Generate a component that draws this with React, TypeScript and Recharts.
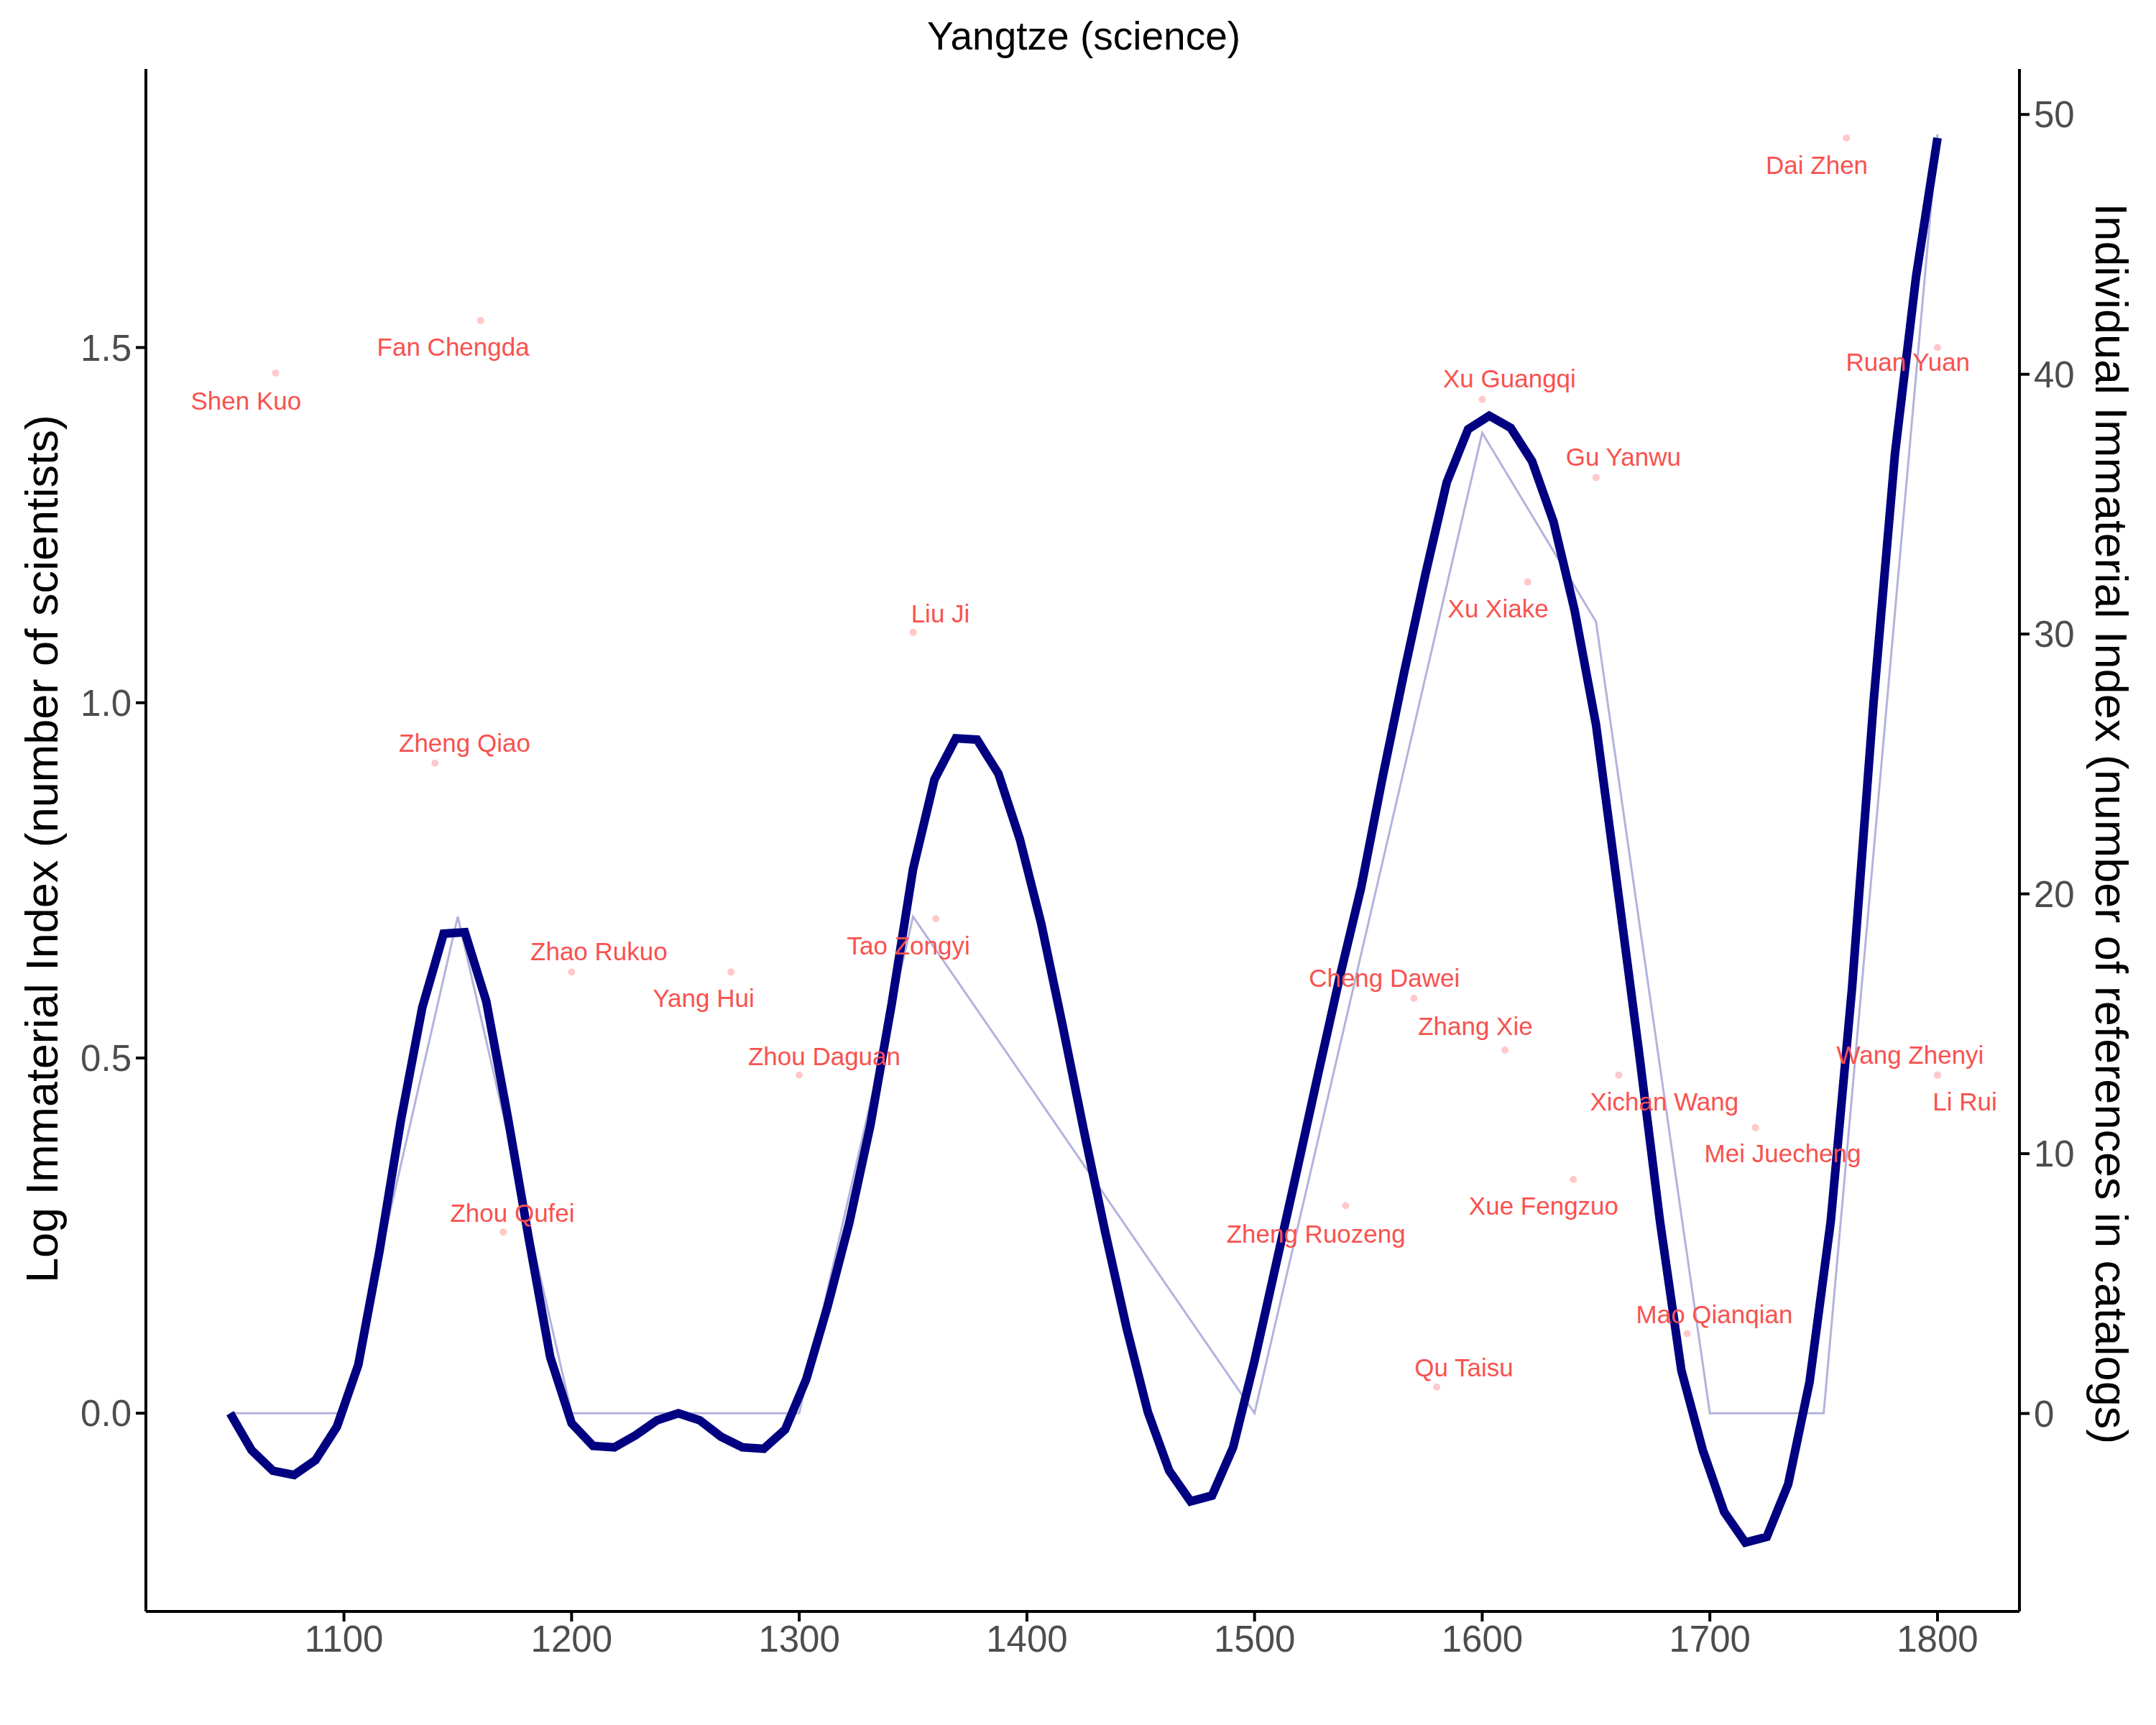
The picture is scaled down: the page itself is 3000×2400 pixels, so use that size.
import React from 'react';
import {
  ComposedChart,
  Line,
  Scatter,
  XAxis,
  YAxis,
} from 'recharts';

// smoothed curve (log immaterial index)
const smoothYears = [
  1050, 1059.4, 1068.8, 1078.1, 1087.5, 1096.9, 1106.3, 1115.6, 1125, 1134.4,
  1143.8, 1153.1, 1162.5, 1171.9, 1181.3, 1190.6, 1200, 1209.4, 1218.8, 1228.1,
  1237.5, 1246.9, 1256.3, 1265.6, 1275, 1284.4, 1293.8, 1303.1, 1312.5, 1321.9,
  1331.3, 1340.6, 1350, 1359.4, 1368.8, 1378.1, 1387.5, 1396.9, 1406.3, 1415.6,
  1425, 1434.4, 1443.8, 1453.1, 1462.5, 1471.9, 1481.3, 1490.6, 1500, 1509.4,
  1518.8, 1528.1, 1537.5, 1546.9, 1556.3, 1565.6, 1575, 1584.4, 1593.8, 1603.1,
  1612.5, 1621.9, 1631.3, 1640.6, 1650, 1659.4, 1668.8, 1678.1, 1687.5, 1696.9,
  1706.3, 1715.6, 1725, 1734.4, 1743.8, 1753.1, 1762.5, 1771.9, 1781.3, 1790.6, 1800,
];
const smoothValues = [
  0, -0.052, -0.081, -0.087, -0.066, -0.019, 0.068, 0.228, 0.412, 0.571,
  0.675, 0.677, 0.58, 0.418, 0.244, 0.079, -0.014, -0.046, -0.048, -0.031,
  -0.01, 0, -0.01, -0.033, -0.048, -0.05, -0.023, 0.048, 0.151, 0.267,
  0.406, 0.576, 0.766, 0.892, 0.95, 0.948, 0.9, 0.808, 0.689, 0.547,
  0.398, 0.255, 0.12, 0.002, -0.081, -0.124, -0.116, -0.048, 0.074, 0.209,
  0.344, 0.48, 0.615, 0.741, 0.896, 1.041, 1.18, 1.31, 1.385, 1.404,
  1.387, 1.34, 1.255, 1.13, 0.969, 0.741, 0.51, 0.27, 0.06, -0.052,
  -0.139, -0.182, -0.174, -0.1, 0.044, 0.27, 0.6, 1.0, 1.35, 1.6, 1.795,
];

// raw half-century values
const rawYears = [1050, 1100, 1150, 1200, 1300, 1350, 1500, 1600, 1650, 1700, 1750, 1800];
const rawValues = [0, 0, 0.699, 0, 0, 0.699, 0, 1.38, 1.114, 0, 0, 1.8];

// individual scientists
const names = [
  'Shen Kuo', 'Fan Chengda', 'Zheng Qiao', 'Zhao Rukuo', 'Yang Hui', 'Zhou Daguan',
  'Zhou Qufei', 'Liu Ji', 'Tao Zongyi', 'Cheng Dawei', 'Zhang Xie', 'Zheng Ruozeng',
  'Qu Taisu', 'Xu Guangqi', 'Gu Yanwu', 'Xu Xiake', 'Xichan Wang', 'Xue Fengzuo',
  'Mao Qianqian', 'Mei Juecheng', 'Dai Zhen', 'Ruan Yuan', 'Wang Zhenyi', 'Li Rui',
];
const pointYears = [
  1070, 1160, 1140, 1200, 1270, 1300, 1170, 1350, 1360, 1570, 1610, 1540,
  1580, 1600, 1650, 1620, 1660, 1640, 1690, 1720, 1760, 1800, 1800, 1800,
];
const pointValues = [
  1.464, 1.538, 0.915, 0.621, 0.621, 0.476, 0.255, 1.099, 0.696, 0.584, 0.511, 0.292,
  0.037, 1.427, 1.317, 1.17, 0.476, 0.329, 0.112, 0.402, 1.795, 1.5, 0.476, 0.476,
];
const labelYears = [
  1057, 1148, 1153, 1212, 1258, 1311, 1174, 1362, 1348, 1557, 1597, 1527,
  1592, 1612, 1662, 1607, 1680, 1627, 1702, 1732, 1747, 1787, 1788, 1812,
];
const labelValues = [
  1.425, 1.501, 0.944, 0.65, 0.584, 0.503, 0.282, 1.126, 0.658, 0.613, 0.545, 0.253,
  0.064, 1.456, 1.346, 1.133, 0.439, 0.292, 0.139, 0.366, 1.757, 1.48, 0.505, 0.439,
];

const xTicks = [1100, 1200, 1300, 1400, 1500, 1600, 1700, 1800];
const leftTicks = [0, 0.5, 1, 1.5];
const rightTicks = [0, 10, 20, 30, 40, 50];

const smoothData = smoothYears.map((x, i) => ({ x, y: smoothValues[i] }));
const rawData = rawYears.map((x, i) => ({ x, y: rawValues[i] }));
const pointData = pointYears.map((x, i) => ({ x, y: pointValues[i] }));
const labelData = labelYears.map((x, i) => ({ x, y: labelValues[i], name: names[i] }));

const font = 'Liberation Sans, Arial, sans-serif';
const tickStyle = { fontSize: 51, fill: '#4d4d4d', fontFamily: font };

const NameLabel = (props: any) => (
  <text
    x={props.cx}
    y={props.cy}
    textAnchor="middle"
    dominantBaseline="central"
    fontSize={35}
    fontFamily={font}
    fill="#f8524f"
  >
    {props.payload.name}
  </text>
);

const axisTitle = (text: string, left: number, top: number, angle: number) => (
  <div
    style={{
      position: 'absolute',
      left,
      top,
      transform: `translate(-50%, -50%) rotate(${angle}deg)`,
      whiteSpace: 'nowrap',
      fontFamily: font,
      fontSize: 63,
      color: '#000',
    }}
  >
    {text}
  </div>
);

const App: React.FC = () => (
  <div style={{ position: 'relative', width: 3000, height: 2400 }}>
    <div
      style={{
        position: 'absolute',
        top: 10,
        left: 0,
        width: 3000,
        textAlign: 'center',
        fontFamily: font,
        fontSize: 55,
        color: '#000',
      }}
    >
      Yangtze (science)
    </div>
    {axisTitle('Log Immaterial Index (number of scientists)', 50, 1173, -90)}
    {axisTitle('Individual Immaterial Index (number of references in catalogs)', 2930, 1138, 90)}
    <ComposedChart
      width={3000}
      height={2400}
      margin={{ top: 88, right: 0, bottom: 0, left: 0 }}
    >
      <XAxis
        dataKey="x"
        type="number"
        domain={[1013, 1836]}
        ticks={xTicks}
        height={166}
        tick={tickStyle}
        tickSize={14}
        tickMargin={6}
        stroke="#000"
        strokeWidth={4}
        allowDataOverflow
      />
      <YAxis
        yAxisId="left"
        type="number"
        domain={[-0.279, 1.892]}
        ticks={leftTicks}
        tickFormatter={(v: number) => v.toFixed(1)}
        width={195}
        tick={tickStyle}
        tickSize={14}
        tickMargin={6}
        stroke="#000"
        strokeWidth={4}
        allowDataOverflow
      />
      <YAxis
        yAxisId="right"
        orientation="right"
        type="number"
        domain={[-7.62, 51.75]}
        ticks={rightTicks}
        width={198}
        tick={tickStyle}
        tickSize={14}
        tickMargin={6}
        stroke="#000"
        strokeWidth={4}
        allowDataOverflow
      />
      <Line
        yAxisId="left"
        data={rawData}
        dataKey="y"
        type="linear"
        stroke="#b3b3dc"
        strokeWidth={3}
        dot={false}
        isAnimationActive={false}
      />
      <Line
        yAxisId="left"
        data={smoothData}
        dataKey="y"
        type="linear"
        stroke="#000080"
        strokeWidth={12}
        dot={false}
        isAnimationActive={false}
      />
      <Scatter
        yAxisId="left"
        data={pointData}
        dataKey="y"
        fill="#ffc9c9"
        shape={(p: any) => <circle cx={p.cx} cy={p.cy} r={5} fill="#ffc9c9" />}
        isAnimationActive={false}
      />
      <Scatter
        yAxisId="left"
        data={labelData}
        dataKey="y"
        shape={NameLabel}
        isAnimationActive={false}
      />
    </ComposedChart>
  </div>
);

export default App;
